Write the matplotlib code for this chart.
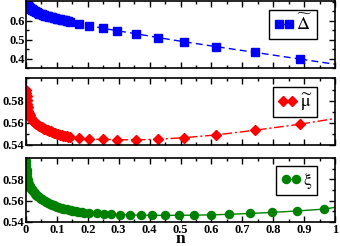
import matplotlib
matplotlib.use('Agg')
import matplotlib.pyplot as plt
from matplotlib.ticker import MultipleLocator

# dense points near n = 0 (shared by gap and chemical potential)
n_dense = [0.0003, 0.001, 0.002, 0.003, 0.0045, 0.006, 0.008, 0.010, 0.012, 0.014,
           0.016, 0.0185, 0.021, 0.024, 0.027, 0.030, 0.033, 0.0365, 0.040, 0.0435,
           0.047, 0.051, 0.055, 0.059, 0.063, 0.067, 0.0715, 0.076, 0.0805, 0.085,
           0.090, 0.095, 0.100, 0.105, 0.110, 0.1155, 0.121, 0.1265, 0.132, 0.137]
n_sparse = [0.142, 0.171, 0.205, 0.248, 0.296, 0.355, 0.428, 0.512, 0.616, 0.740, 0.888]

delta_dense = [0.701, 0.697, 0.693, 0.689, 0.685, 0.682, 0.677, 0.673, 0.670, 0.667,
               0.6645, 0.6615, 0.6585, 0.655, 0.652, 0.6495, 0.647, 0.644, 0.641, 0.6385,
               0.636, 0.6337, 0.6315, 0.6295, 0.6275, 0.6255, 0.6234, 0.6213, 0.6194, 0.618,
               0.6162, 0.6142, 0.6122, 0.6101, 0.6083, 0.6062, 0.6043, 0.6023, 0.6003, 0.5982]
delta_sparse = [0.596, 0.584, 0.574, 0.561, 0.547, 0.532, 0.511, 0.489, 0.463, 0.433, 0.397]
delta_end = 0.370

mu_dense = [0.5895, 0.587, 0.584, 0.581, 0.577, 0.574, 0.571, 0.5688, 0.567, 0.5655,
            0.5642, 0.5632, 0.5623, 0.5615, 0.5607, 0.560, 0.5593, 0.5586, 0.5579, 0.5572,
            0.5566, 0.5559, 0.5553, 0.5547, 0.5542, 0.5537, 0.5532, 0.5527, 0.5522, 0.5517,
            0.5512, 0.5507, 0.5503, 0.5498, 0.5494, 0.5489, 0.5485, 0.5481, 0.5477, 0.5472]
mu_sparse = [0.5468, 0.5459, 0.5454, 0.545, 0.5448, 0.5446, 0.5452, 0.5466, 0.5491, 0.5533, 0.5588]
mu_end = 0.5639

# xi has its own n grid
n_xi = [0.0003, 0.001, 0.002, 0.003, 0.0045, 0.006, 0.0075, 0.009, 0.0105, 0.012, 0.014,
        0.016, 0.018, 0.02, 0.0225, 0.025, 0.0275, 0.030, 0.033, 0.036, 0.039, 0.042,
        0.0455, 0.049, 0.0525, 0.056, 0.06, 0.064, 0.068, 0.072, 0.0765, 0.081, 0.0855,
        0.090, 0.095, 0.100, 0.105, 0.110, 0.1155, 0.121, 0.1265, 0.132, 0.138, 0.144,
        0.15, 0.156, 0.1625, 0.169, 0.1755, 0.182, 0.189, 0.205, 0.229, 0.252, 0.276,
        0.304, 0.337, 0.371, 0.409, 0.450, 0.495, 0.544, 0.598, 0.658, 0.725, 0.796,
        0.876, 0.964]
xi = [0.5975, 0.593, 0.589, 0.586, 0.5825, 0.5795, 0.577, 0.5757, 0.5745, 0.5735, 0.5725,
      0.5714, 0.5705, 0.5696, 0.5688, 0.5679, 0.567, 0.5662, 0.5655, 0.5647, 0.564, 0.5632,
      0.5625, 0.5618, 0.5612, 0.5605, 0.5598, 0.5591, 0.5585, 0.5579, 0.5573, 0.5567, 0.5561,
      0.5555, 0.555, 0.5545, 0.554, 0.5535, 0.5531, 0.5526, 0.5522, 0.5518, 0.5514, 0.551,
      0.5507, 0.5503, 0.55, 0.5497, 0.5494, 0.5491, 0.5489, 0.5485, 0.548, 0.5475, 0.5471,
      0.5468, 0.5466, 0.5464, 0.5463, 0.5462, 0.5463, 0.5464, 0.5467, 0.5472, 0.548, 0.549,
      0.5503, 0.5521]
xi_end = 0.5537

plt.rcParams['font.family'] = 'Liberation Serif'
plt.rcParams['mathtext.fontset'] = 'stix'

fig = plt.figure(figsize=(3.4, 2.46), dpi=100)
ax1 = fig.add_axes([0.0765, 0.7236, 0.9088, 0.2724])
ax2 = fig.add_axes([0.0765, 0.4106, 0.9088, 0.2703])
ax3 = fig.add_axes([0.0765, 0.0976, 0.9088, 0.2600])

panels = [
    (ax1, n_dense + n_sparse, delta_dense + delta_sparse, delta_end, 'blue', 's', 5.6,
     (0, (5, 3)), r'$\widetilde{\Delta}$', (0.35, 0.705), [0.4, 0.5, 0.6], 0.05),
    (ax2, n_dense + n_sparse, mu_dense + mu_sparse, mu_end, 'red', 'D', 5.0,
     (0, (7, 2, 1.5, 2)), r'$\widetilde{\mathrm{\mu}}$', (0.54, 0.60), [0.54, 0.56, 0.58], 0.01),
    (ax3, n_xi, xi, xi_end, 'green', 'o', 5.8, '-', r'$\mathrm{\xi}$', (0.54, 0.60),
     [0.54, 0.56, 0.58], 0.01),
]

for ax, x, y, y_end, c, m, ms, ls, lab, ylim, yt, minor in panels:
    ax.plot(x, y, color=c, marker=m, ms=ms, ls=ls, lw=1.0, mec=c, label=lab)
    ax.plot([x[-1], 1.0], [y[-1], y_end], color=c, ls=ls, lw=1.0)
    ax.set_xlim(0, 1)
    ax.set_ylim(*ylim)
    ax.xaxis.set_major_locator(MultipleLocator(0.1))
    ax.xaxis.set_minor_locator(MultipleLocator(0.05))
    ax.set_yticks(yt)
    ax.set_yticklabels([str(v) for v in yt], fontweight='bold', fontsize=9)
    ax.yaxis.set_minor_locator(MultipleLocator(minor))
    ax.tick_params(which='both', direction='in', top=True, right=True, width=1.0)
    ax.tick_params(which='major', length=4)
    ax.tick_params(which='minor', length=2)
    ax.tick_params(axis='y', pad=1)
    for s in ax.spines.values():
        s.set_linewidth(1.2)
    leg = ax.legend(loc='upper right', bbox_to_anchor=(0.942, 0.87), numpoints=2, fontsize=13,
                    handlelength=1.15, handletextpad=0.1, borderpad=0.25, borderaxespad=0,
                    fancybox=False, framealpha=1, edgecolor='black')
    leg.get_frame().set_linewidth(1.0)

for ax in (ax1, ax2):
    ax.tick_params(labelbottom=False)

xt = [0, 0.1, 0.2, 0.3, 0.4, 0.5, 0.6, 0.7, 0.8, 0.9, 1]
ax3.set_xticks(xt)
ax3.set_xticklabels(['0', '0.1', '0.2', '0.3', '0.4', '0.5', '0.6', '0.7', '0.8', '0.9', '1'],
                    fontweight='bold', fontsize=9)
ax3.tick_params(axis='x', pad=1.5)
fig.text(0.53, 0.012, 'n', ha='center', va='baseline', fontweight='bold', fontsize=12.5)

fig.savefig('out.png', dpi=100)
